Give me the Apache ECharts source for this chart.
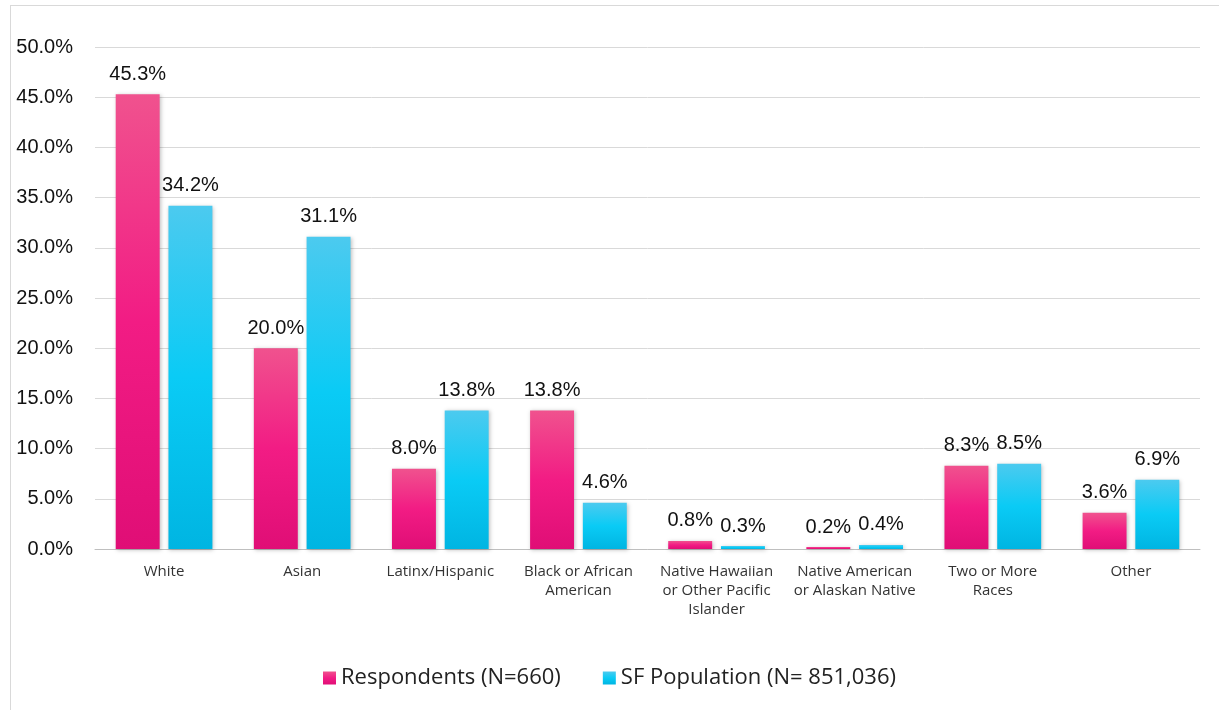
<!DOCTYPE html>
<html>
<head>
<meta charset="utf-8">
<script src="https://cdn.jsdelivr.net/npm/echarts@6/dist/echarts.min.js"></script>
<style>
  html, body { margin: 0; padding: 0; background: #fff; }
  #frame { position: absolute; left: 10px; top: 5px; width: 1215px; height: 710px; border: 1px solid #d9d9d9; box-sizing: border-box; }
  #chart { position: absolute; left: 0; top: 0; width: 1219px; height: 710px; }
</style>
</head>
<body>
<div id="frame"></div>
<div id="chart"></div>
<script>
// categorias e valores (%)
var categories = ['White', 'Asian', 'Latinx/Hispanic', 'Black or African\nAmerican',
  'Native Hawaiian\nor Other Pacific\nIslander', 'Native American\nor Alaskan Native',
  'Two or More\nRaces', 'Other'];
var respondents = [45.3, 20.0, 8.0, 13.8, 0.8, 0.2, 8.3, 3.6];
var sfPopulation = [34.2, 31.1, 13.8, 4.6, 0.3, 0.4, 8.5, 6.9];
var seriesNames = ['Respondents (N=660)', 'SF Population (N= 851,036)'];

function grad(top, mid, bottom) {
  return new echarts.graphic.LinearGradient(0, 0, 0, 1, [
    { offset: 0, color: top }, { offset: 0.5, color: mid }, { offset: 1, color: bottom }
  ]);
}

var pink = grad('#F0528E', '#F21C84', '#E00E76');
var cyan = grad('#4CCAEF', '#0ACBF5', '#00B5E2');

var labelStyle = {
  show: true, position: 'top', distance: 10,
  fontFamily: 'Liberation Sans, Arial, sans-serif', fontSize: 20, color: '#111',
  formatter: function (p) { return p.value.toFixed(1) + '%'; }
};

var chart = echarts.init(document.getElementById('chart'));
chart.setOption({
  animation: false,
  grid: { left: 95, right: 19, top: 47, bottom: 161 },
  legend: {
    bottom: 16, left: 'center', itemGap: 42, itemWidth: 13, itemHeight: 13,
    icon: 'rect',
    textStyle: { fontFamily: 'Open Sans, sans-serif', fontSize: 22, color: '#222' },
    data: seriesNames
  },
  xAxis: {
    type: 'category', data: categories,
    axisLine: { lineStyle: { color: '#bfbfbf', width: 1 } },
    axisTick: { show: false },
    axisLabel: {
      margin: 13, interval: 0, lineHeight: 19,
      fontFamily: 'Open Sans, sans-serif', fontSize: 15, color: '#333'
    }
  },
  yAxis: {
    type: 'value', min: 0, max: 50, interval: 5,
    axisLine: { show: false }, axisTick: { show: false },
    splitLine: { lineStyle: { color: '#d9d9d9', width: 1 } },
    axisLabel: {
      margin: 22, align: 'right',
      fontFamily: 'Liberation Sans, Arial, sans-serif', fontSize: 20, color: '#111',
      formatter: function (v) { return v.toFixed(1) + '%'; }
    }
  },
  series: [
    {
      name: seriesNames[0], type: 'bar', data: respondents,
      barGap: '20%', barCategoryGap: '30%',
      itemStyle: { color: pink, shadowColor: 'rgba(0,0,0,0.25)', shadowBlur: 4, shadowOffsetX: 1, shadowOffsetY: 1 },
      label: labelStyle
    },
    {
      name: seriesNames[1], type: 'bar', data: sfPopulation,
      itemStyle: { color: cyan, shadowColor: 'rgba(0,0,0,0.25)', shadowBlur: 4, shadowOffsetX: 1, shadowOffsetY: 1 },
      label: labelStyle
    }
  ]
});
</script>
</body>
</html>
